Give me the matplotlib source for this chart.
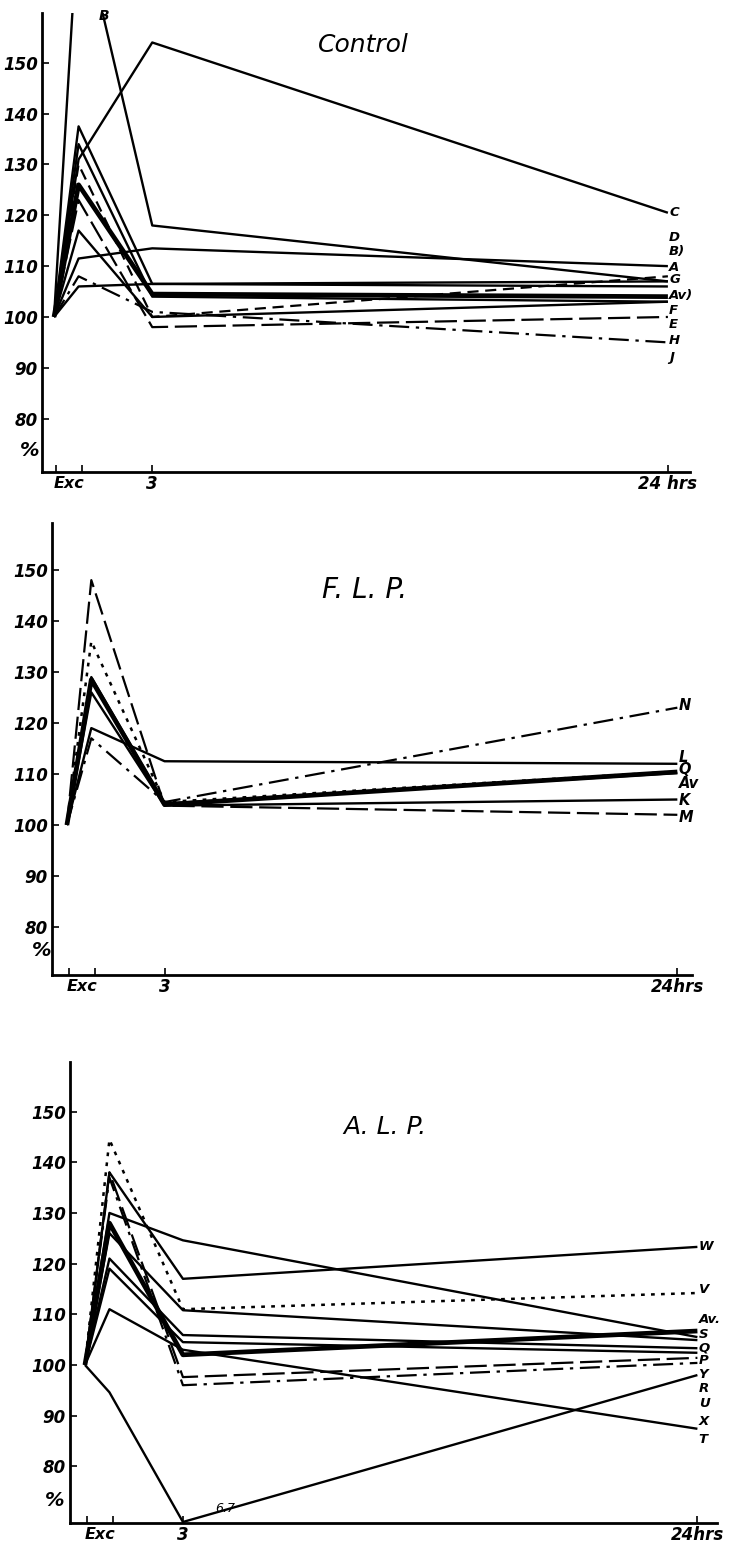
import matplotlib
matplotlib.use("Agg")
import matplotlib.pyplot as plt
from matplotlib import font_manager

# ---------------- data ----------------
times = [-1, 0, 3, 24]          # pre, Exc, 3 hrs, 24 hrs

# Control panel
ctrl_names = ["C", "D", "B", "A", "G", "Av", "F", "E", "H", "J", "K2"]
ctrl_vals = [
    [100, 131, 154, 120.5],
    [100, 111.5, 113.5, 110],
    [100, 180, 118, 107],
    [100, 137.5, 106.5, 106],
    [100, 106, 106.5, 107],
    [100, 126, 104.5, 104],
    [100, 134, 104, 103],
    [100, 123, 98, 100],
    [100, 108, 101, 95],
    [100, 117, 100, 103],
    [100, 130, 100, 108],
]
ctrl_styles = ["solid", "solid", "solid", "solid", "solid", "thick", "solid",
               "longdash", "dashdot", "solid", "dashed"]
ctrl_labels = ["C", "D", "B)", "A", "G", "Av)", "F", "E", "H", "J"]
ctrl_label_y = [120.5, 115.6, 112.8, 109.8, 107.3, 104.2, 101.3, 98.6, 95.3, 92.1]

# F.L.P. panel
flp_names = ["L", "Q", "Av", "K", "M", "N", "X1"]
flp_vals = [
    [100, 119, 112.5, 112],
    [100, 136, 104.5, 110.5],
    [100, 128.5, 104, 110.4],
    [100, 126, 103.8, 105],
    [100, 148, 103.8, 102],
    [100, 117, 104.5, 123],
    [100, 129, 104.2, 110.2],
]
flp_styles = ["solid", "dotted", "thick", "solid", "longdash", "dashdot", "solid"]
flp_labels = ["N", "L", "Q", "Av", "K", "M"]
flp_label_y = [123.5, 113.3, 110.8, 108.2, 104.9, 101.4]

# A.L.P. panel
alp_names = ["W", "V", "Av", "S", "Q", "P", "Y", "R", "U", "X", "T"]
alp_vals = [
    [100, 138, 117, 123.3],
    [100, 144.5, 111, 114.2],
    [100, 128, 102, 106.7],
    [100, 130, 124.6, 105.5],
    [100, 126, 110.8, 104.9],
    [100, 121, 105.9, 103.3],
    [100, 119, 104.5, 102.4],
    [100, 137, 96, 100.4],
    [100, 94.6, 69, 98],
    [100, 138, 97.6, 101.4],
    [100, 111, 103, 87.4],
]
alp_styles = ["solid", "dotted", "thick", "solid", "solid", "solid", "solid",
              "dashdot", "solid", "longdash", "solid"]
alp_labels = ["W", "V", "Av.", "S", "Q", "P", "Y", "R", "U", "X", "T"]
alp_label_y = [123.3, 114.8, 109.0, 106.1, 103.4, 100.8, 98.2, 95.3, 92.4, 88.8, 85.2]

yticks = [80, 90, 100, 110, 120, 130, 140, 150]

# ---------------- style ----------------
names = {f.name for f in font_manager.fontManager.ttflist}
FONT = "Liberation Sans Narrow" if "Liberation Sans Narrow" in names else "DejaVu Sans"
plt.rcParams["font.family"] = [FONT, "DejaVu Sans"]

LS = {
    "solid": dict(linestyle="-", lw=1.7),
    "thick": dict(linestyle="-", lw=3.4),
    "dashed": dict(linestyle=(0, (5, 3)), lw=1.6),
    "dotted": dict(linestyle=(0, (1.5, 2.5)), lw=1.8),
    "dashdot": dict(linestyle=(0, (9, 3, 1.5, 3)), lw=1.6),
    "longdash": dict(linestyle=(0, (10, 3)), lw=1.6),
}
TXT = dict(style="italic", fontweight="bold")

W, H = 729, 1543
fig = plt.figure(figsize=(W / 100, H / 100), dpi=100)


def make_ax(left, right, top, bottom, xlim, ylim, hrs, pct_x, pct_y):
    ax = fig.add_axes([left / W, 1 - bottom / H, (right - left) / W, (bottom - top) / H])
    ax.set_xlim(*xlim)
    ax.set_ylim(*ylim)
    for s in ("top", "right"):
        ax.spines[s].set_visible(False)
    for s in ("left", "bottom"):
        ax.spines[s].set_linewidth(2.0)
    ax.set_yticks(yticks)
    ax.set_yticklabels([str(t) for t in yticks], fontsize=12, **TXT)
    ax.tick_params(axis="y", direction="in", length=5, width=1.2, pad=3)
    ax.set_xticks([-0.9, 0.15, 3, 24])
    ax.set_xticklabels(["", "", "3", hrs], fontsize=12, **TXT)
    ax.tick_params(axis="x", direction="in", length=5, width=1.2, pad=2)
    ax.text(-0.4, -0.008, "Exc", transform=ax.get_xaxis_transform(), ha="center",
            va="top", fontsize=11.5, **TXT)
    fig.text(pct_x / W, 1 - pct_y / H, "%", ha="center", va="center",
             fontsize=14, **TXT)
    return ax


def draw(ax, vals, styles):
    for v, st in zip(vals, styles):
        ax.plot(times, v, color="black", solid_capstyle="butt",
                dash_capstyle="butt", clip_on=True, **LS[st])


def labels(ax, labs, ys, x=24.05, fs=10.5):
    for lab, y in zip(labs, ys):
        ax.text(x, y, lab, ha="left", va="center", fontsize=fs, clip_on=False,
                **TXT)


# Control
ax1 = make_ax(42, 690, 13, 472, (-1.49, 24.9), (69.5, 159.8), "24 hrs", 30, 450)
draw(ax1, ctrl_vals, ctrl_styles)
labels(ax1, ctrl_labels, ctrl_label_y, fs=9.5)
ax1.text(0.8, 159.2, "B", ha="left", va="center", fontsize=10, **TXT)
fig.text(363 / W, 1 - 45 / H, "Control", ha="center", va="center", fontsize=18,
         style="italic")

# F.L.P.
ax2 = make_ax(52, 692, 523, 975, (-1.61, 24.6), (70.6, 159.2), "24hrs", 42, 950)
draw(ax2, flp_vals, flp_styles)
labels(ax2, flp_labels, flp_label_y)
fig.text(365 / W, 1 - 590 / H, "F. L. P.", ha="center", va="center", fontsize=20,
         style="italic")

# A.L.P.
ax3 = make_ax(70, 717, 1062, 1523, (-1.61, 24.8), (68.8, 159.8), "24hrs", 55, 1500)
draw(ax3, alp_vals, alp_styles)
labels(ax3, alp_labels, alp_label_y, fs=9.5)
ax3.text(4.3, 70.3, "6.7", ha="left", va="bottom", fontsize=9, style="italic")
fig.text(385 / W, 1 - 1127 / H, "A. L. P.", ha="center", va="center", fontsize=18,
         style="italic")

fig.savefig("out.png", dpi=100, facecolor="white")
